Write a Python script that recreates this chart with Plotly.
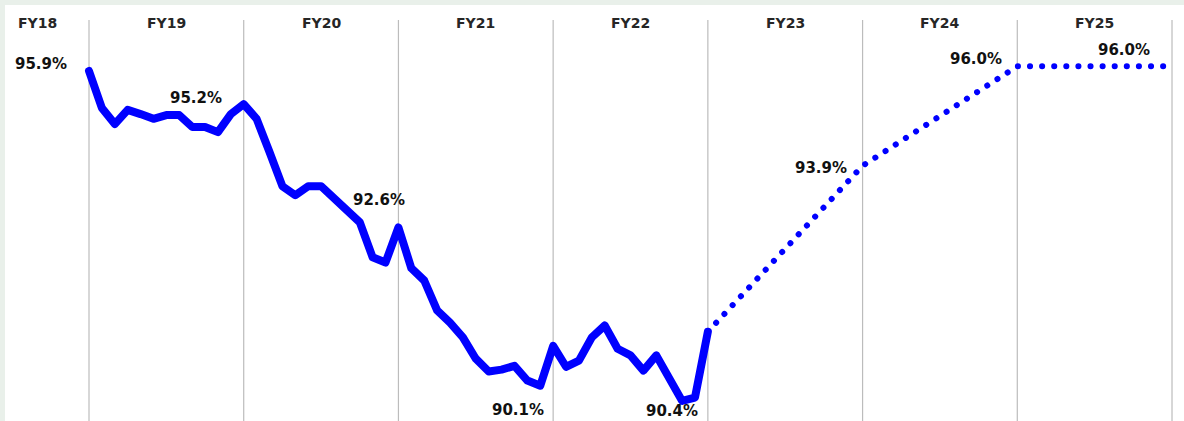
import plotly.graph_objects as go

# Fiscal years, one column each; months are counted from the close of FY18
fiscal_years = ["FY18", "FY19", "FY20", "FY21", "FY22", "FY23", "FY24", "FY25"]
months_per_year = 12

# Monthly actuals, FY18 close through FY22 close (%)
actual_fy18_close = [95.9]
actual_fy19 = [95.12, 94.78, 95.08, 94.99, 94.89, 94.97, 94.97, 94.72, 94.72, 94.61, 94.99, 95.2]
actual_fy20 = [94.89, 94.19, 93.47, 93.28, 93.47, 93.47, 93.21, 93.0, 92.71, 91.97, 91.86, 92.6]
actual_fy21 = [91.74, 91.48, 90.85, 90.59, 90.28, 89.83, 89.56, 89.60, 89.68, 89.37, 89.26, 90.1]
actual_fy22 = [89.66, 89.79, 90.28, 90.53, 90.04, 89.90, 89.58, 89.90, 89.43, 88.94, 89.01, 90.4]

# Year-end targets for the outlook (FY22 close, FY23, FY24, FY25)
target_years = ["FY22", "FY23", "FY24", "FY25"]
target_values = [90.4, 93.9, 96.0, 96.0]

# Year-end values that carry a label
label_years = ["FY18", "FY19", "FY20", "FY21", "FY22", "FY23", "FY24", "FY25"]
label_values = [95.9, 95.2, 92.6, 90.1, 90.4, 93.9, 96.0, 96.0]

actual = actual_fy18_close + actual_fy19 + actual_fy20 + actual_fy21 + actual_fy22
actual_x = list(range(len(actual)))


def year_end(fy):
    return (fiscal_years.index(fy)) * months_per_year


target_x = [year_end(fy) for fy in target_years]
label_x = [year_end(fy) for fy in label_years]

BLUE = "#0000FF"
TEXT = "#111111"

fig = go.Figure()
fig.add_trace(go.Scatter(
    x=actual_x, y=actual, mode="lines",
    line=dict(color=BLUE, width=8), hoverinfo="skip",
))
fig.add_trace(go.Scatter(
    x=target_x, y=target_values, mode="lines",
    line=dict(color=BLUE, width=6, dash="dot"), hoverinfo="skip",
))

# Thin grey separators at each fiscal year close
last = year_end(fiscal_years[-1])
shapes = []
for k in range(0, last + 1, months_per_year):
    shapes.append(dict(
        type="line", xref="x", yref="paper", x0=k, x1=k, y0=0, y1=0.964,
        line=dict(color="#bcbcbc", width=1.2), layer="below",
    ))

annotations = []
# Fiscal year headers
header_x = [-3.96] + [year_end(fy) - months_per_year / 2 for fy in fiscal_years[1:]]
for fy, hx in zip(fiscal_years, header_x):
    annotations.append(dict(
        x=hx, y=0.957, xref="x", yref="paper", text=fy, showarrow=False,
        font=dict(family="DejaVu Sans", size=14, color="#262626", weight="bold"),
        xanchor="center", yanchor="middle",
    ))

# Value labels beside each year-end point
label_shift = [(-48, 7), (-48, 6), (-19, 27), (-35, -64), (-36, -79), (-42, -2), (-41, 7), (-48, 16)]
for lx, lv, (dx, dy) in zip(label_x, label_values, label_shift):
    annotations.append(dict(
        x=lx, y=lv, xref="x", yref="y", text=f"{lv:.1f}%", showarrow=False,
        xshift=dx, yshift=dy,
        font=dict(family="DejaVu Sans", size=15, color=TEXT, weight="bold"),
        xanchor="center", yanchor="middle",
    ))

fig.update_layout(
    width=1184, height=421,
    margin=dict(l=5, r=0, t=5, b=0),
    paper_bgcolor="#E9F0EA", plot_bgcolor="#FFFFFF",
    showlegend=False,
    shapes=shapes, annotations=annotations,
    xaxis=dict(range=[-6.515, 84.93], visible=False, fixedrange=True),
    yaxis=dict(range=[88.516, 97.292], visible=False, fixedrange=True),
)

# Round caps and joins for the thick strokes; dots for the outlook line
post = """
var s = document.createElement('style');
s.textContent = '.scatterlayer .trace path.js-line{stroke-linejoin:round!important;stroke-linecap:round!important}'
  + '.scatterlayer .trace:nth-child(2) path.js-line{stroke-dasharray:0.1px,12px!important}';
document.head.appendChild(s);
"""

fig.write_html("out.html", config={"displayModeBar": False, "staticPlot": True}, post_script=post)
